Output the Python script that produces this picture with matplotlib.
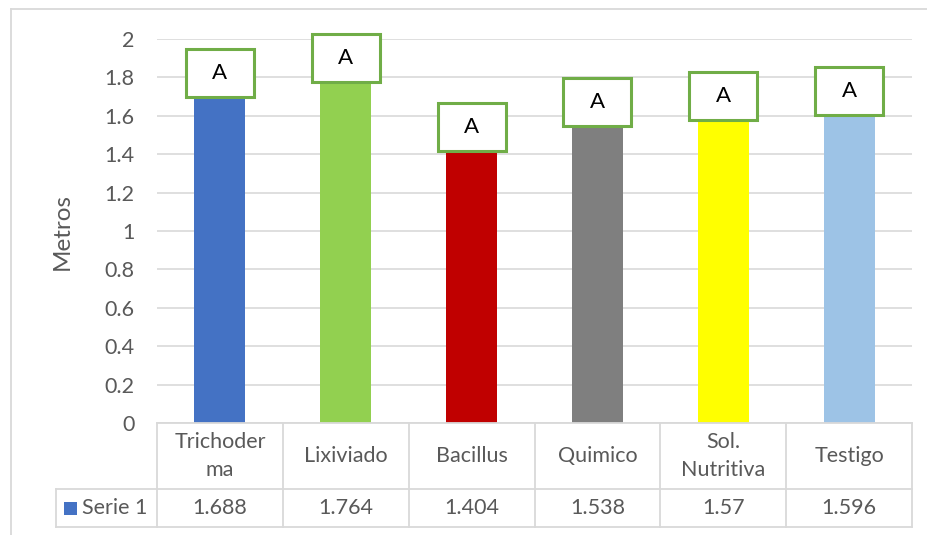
import matplotlib
matplotlib.use("Agg")
import matplotlib.pyplot as plt
from matplotlib.patches import Rectangle
from matplotlib.lines import Line2D
import matplotlib.transforms as mtransforms

categories = ["Trichoder\nma", "Lixiviado", "Bacillus", "Quimico", "Sol.\nNutritiva", "Testigo"]
values = [1.688, 1.764, 1.404, 1.538, 1.57, 1.596]
value_labels = ["1.688", "1.764", "1.404", "1.538", "1.57", "1.596"]
letters = ["A", "A", "A", "A", "A", "A"]
colors = ["#4472C4", "#92D050", "#C00000", "#7F7F7F", "#FFFF00", "#9DC3E6"]
series_name = "Serie 1"
yticks = [0, 0.2, 0.4, 0.6, 0.8, 1, 1.2, 1.4, 1.6, 1.8, 2]
ytick_labels = ["0", "0.2", "0.4", "0.6", "0.8", "1", "1.2", "1.4", "1.6", "1.8", "2"]

plt.rcParams['font.family'] = ['Lato', 'DejaVu Sans']

W, H = 928, 535
dpi = 100
fig = plt.figure(figsize=(W / dpi, H / dpi), dpi=dpi)
fig.patch.set_facecolor("white")

def fx(px):
    return px / W

def fy(py):
    return 1 - py / H

FS = 15.5
TXT = "#595959"
left, right, top, bottom = 157, 912, 39, 423
ax = fig.add_axes([fx(left), fy(bottom), fx(right) - fx(left), fy(top) - fy(bottom)])
n = len(categories)
x = list(range(n))
ax.bar(x, values, width=0.405, color=colors, zorder=2)
ax.set_xlim(-0.5, n - 0.5)
ax.set_ylim(0, 2)
ax.set_yticks(yticks)
ax.set_yticklabels(ytick_labels, fontsize=FS, color=TXT)
ax.set_xticks([])
ax.tick_params(axis="y", length=0, pad=16)
for s in ax.spines.values():
    s.set_visible(False)
ax.yaxis.grid(True, color="#D9D9D9", linewidth=1.2, zorder=0)
ax.set_axisbelow(True)
fig.text(fx(62), fy(231), "Metros", rotation=90, ha="center", va="center",
         fontsize=17.5, color=TXT)

# letter boxes above bars (pixel-sized)
for xi, v, lt in zip(x, values, letters):
    trans = fig.dpi_scale_trans + mtransforms.ScaledTranslation(xi, v, ax.transData)
    rect = Rectangle((-0.34, 0.02), 0.68, 0.48, transform=trans, facecolor="white",
                     edgecolor="#70AD47", linewidth=2.2, clip_on=False, zorder=4)
    ax.add_patch(rect)
    ax.text(0, 0.26, lt, transform=trans, ha="center", va="center",
            fontsize=16, color="black", zorder=5, clip_on=False)

# data table
bt = mtransforms.blended_transform_factory(ax.transData, fig.transFigure)
gc = "#D9D9D9"
row1_top, row1_bot, row2_bot = 423, 489, 527
lw = 1.3
bounds = [i - 0.5 for i in range(n + 1)]
fig.add_artist(Line2D([fx(left), fx(right)], [fy(row1_top)] * 2, color=gc, lw=lw))
fig.add_artist(Line2D([fx(56), fx(right)], [fy(row1_bot)] * 2, color=gc, lw=lw))
fig.add_artist(Line2D([fx(56), fx(right)], [fy(row2_bot)] * 2, color=gc, lw=lw))
for b in bounds:
    ax.add_line(Line2D([b, b], [fy(row1_top), fy(row2_bot)], transform=bt, color=gc,
                       lw=lw, clip_on=False))
fig.add_artist(Line2D([fx(56), fx(56)], [fy(row1_bot), fy(row2_bot)], color=gc, lw=lw))

for xi, cat, vl in zip(x, categories, value_labels):
    ax.text(xi, fy((row1_top + row1_bot) / 2), cat, transform=bt, ha="center", va="center",
            fontsize=FS, color=TXT, linespacing=1.45, clip_on=False)
    ax.text(xi, fy((row1_bot + row2_bot) / 2), vl, transform=bt, ha="center", va="center",
            fontsize=FS, color=TXT, clip_on=False)

# legend key in table
fig.add_artist(Rectangle((fx(64), fy(515)), fx(13), 13 / H, transform=fig.transFigure,
                         facecolor=colors[0], edgecolor="none"))
fig.text(fx(82), fy((row1_bot + row2_bot) / 2), series_name, ha="left", va="center",
         fontsize=FS, color=TXT)

# outer chart border (left and top)
fig.add_artist(Line2D([fx(11), fx(11)], [fy(9), 0], color=gc, lw=1.3))
fig.add_artist(Line2D([fx(11), 1], [fy(9), fy(9)], color=gc, lw=1.3))

fig.savefig("out.png", dpi=dpi, facecolor="white")
